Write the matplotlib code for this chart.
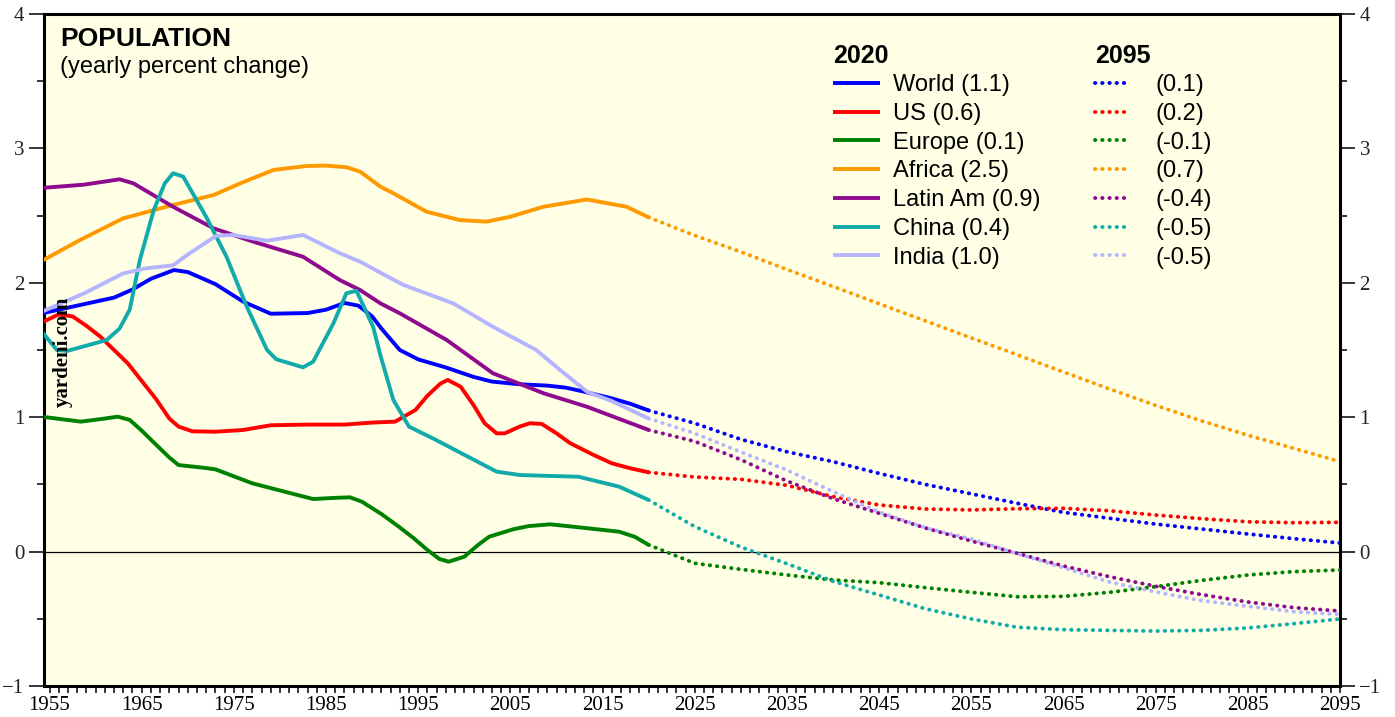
import matplotlib
matplotlib.use("Agg")
import matplotlib.pyplot as plt
from matplotlib.lines import Line2D
from matplotlib.ticker import MultipleLocator, FixedLocator

# ---------------- data ----------------
names = ["World", "US", "Europe", "Africa", "Latin Am", "China", "India"]
colors = ["#0000FF", "#FF0000", "#008000", "#FF9900", "#8E0A8E", "#12AAAA", "#B4B4FF"]
labels_2020 = ["World (1.1)", "US (0.6)", "Europe (0.1)", "Africa (2.5)",
               "Latin Am (0.9)", "China (0.4)", "India (1.0)"]
labels_2095 = ["(0.1)", "(0.2)", "(-0.1)", "(0.7)", "(-0.4)", "(-0.5)", "(-0.5)"]

world_years = [1954, 1958, 1962, 1964, 1966, 1968.5, 1970, 1973, 1976, 1979, 1983, 1985,
               1987, 1988.5, 1990, 1991, 1993, 1995, 1998, 2001, 2003, 2006, 2009, 2011,
               2013, 2016, 2018, 2020]
world_vals = [1.77, 1.83, 1.89, 1.95, 2.03, 2.095, 2.08, 1.99, 1.86, 1.77, 1.775, 1.80,
              1.85, 1.83, 1.75, 1.66, 1.50, 1.43, 1.37, 1.30, 1.265, 1.245, 1.235, 1.22,
              1.19, 1.14, 1.10, 1.05]

us_years = [1954, 1956, 1957.5, 1959, 1960.5, 1962, 1963.5, 1965, 1966.5, 1968, 1969,
            1970.5, 1973, 1976, 1979, 1983, 1987, 1990, 1992.5, 1994.7, 1996, 1997.4,
            1998.2, 1999.6, 2001, 2002.2, 2003.5, 2004.4, 2006, 2007.1, 2008.4, 2010,
            2011.5, 2014, 2016, 2018, 2020]
us_vals = [1.70, 1.765, 1.75, 1.68, 1.60, 1.50, 1.40, 1.27, 1.14, 0.99, 0.93,
           0.895, 0.892, 0.905, 0.94, 0.945, 0.945, 0.96, 0.967, 1.054, 1.16, 1.25,
           1.277, 1.227, 1.09, 0.955, 0.88, 0.88, 0.93, 0.955, 0.95, 0.88,
           0.806, 0.72, 0.657, 0.62, 0.59]

europe_years = [1954, 1958.4, 1961, 1962.4, 1963.7, 1965, 1966.4, 1968, 1969, 1971.7, 1973,
                1975, 1977, 1980.5, 1983.6, 1986, 1987.6, 1988.9, 1991, 1992.9, 1994.5,
                1996, 1997.3, 1998.3, 2000, 2001.5, 2002.7, 2005.3, 2007, 2009.3, 2012.4,
                2016.8, 2018.5, 2020]
europe_vals = [1.005, 0.967, 0.99, 1.004, 0.98, 0.90, 0.806, 0.70, 0.644, 0.624, 0.612,
               0.56, 0.508, 0.446, 0.391, 0.40, 0.404, 0.371, 0.28, 0.185, 0.10,
               0.012, -0.055, -0.075, -0.038, 0.05, 0.111, 0.166, 0.19, 0.203, 0.181,
               0.148, 0.11, 0.05]

africa_years = [1954, 1958.3, 1963, 1968.4, 1972.8, 1975.7, 1979.3, 1982.9, 1985, 1987.2,
                1988.7, 1990.9, 1992.3, 1995.9, 1999.5, 2002.4, 2004.9, 2008.6, 2013.3,
                2017.6, 2020]
africa_vals = [2.157, 2.318, 2.48, 2.579, 2.653, 2.74, 2.84, 2.869, 2.872, 2.86, 2.827,
               2.715, 2.666, 2.529, 2.467, 2.455, 2.49, 2.566, 2.62, 2.566, 2.487]

latam_years = [1954, 1958.7, 1962.6, 1964.1, 1968.4, 1972.8, 1977.1, 1982.5, 1986.5, 1988.7,
               1990.9, 1993, 1998.1, 2003.1, 2008.6, 2013.3, 2020]
latam_vals = [2.705, 2.73, 2.77, 2.74, 2.566, 2.405, 2.306, 2.194, 2.02, 1.946,
              1.847, 1.773, 1.574, 1.327, 1.178, 1.078, 0.905]

china_years = [1954, 1955.8, 1956.9, 1961.2, 1962.6, 1963.7, 1964.8, 1966.3, 1967.5, 1968.4,
               1969.5, 1972, 1974.2, 1976.4, 1978.6, 1979.6, 1982.5, 1983.6, 1985.8, 1987.2,
               1988.3, 1990.1, 1990.9, 1992.3, 1994, 1996.8, 2000.4, 2003.5, 2006, 2009.3,
               2012.4, 2016.8, 2020]
china_vals = [1.65, 1.50, 1.493, 1.574, 1.66, 1.80, 2.17, 2.54, 2.74, 2.815,
              2.79, 2.49, 2.194, 1.822, 1.50, 1.431, 1.371, 1.413, 1.699, 1.922,
              1.941, 1.673, 1.46, 1.128, 0.93, 0.835, 0.706, 0.595, 0.57, 0.563,
              0.557, 0.483, 0.384]

india_years = [1954, 1958.7, 1963, 1965.5, 1968.4, 1970.2, 1973.1, 1974.9, 1978.6, 1982.5,
               1986.5, 1988.7, 1990.9, 1993.4, 1998.8, 2003.1, 2007.8, 2010.4, 2013.3,
               2016, 2020]
india_vals = [1.78, 1.92, 2.07, 2.108, 2.13, 2.22, 2.35, 2.356, 2.313, 2.356,
              2.22, 2.157, 2.075, 1.984, 1.847, 1.673, 1.50, 1.351, 1.19,
              1.12, 0.99]

proj_years = [2020, 2025, 2030, 2035, 2040, 2045, 2050, 2055, 2060, 2065, 2070, 2075,
              2080, 2085, 2090, 2095]
world_proj = [1.05, 0.955, 0.835, 0.743, 0.669, 0.582, 0.50, 0.43, 0.359, 0.292, 0.248,
              0.205, 0.168, 0.131, 0.096, 0.064]
us_proj = [0.59, 0.555, 0.538, 0.493, 0.409, 0.347, 0.317, 0.31, 0.319, 0.322, 0.304,
           0.272, 0.245, 0.222, 0.215, 0.218]
europe_proj = [0.05, -0.087, -0.132, -0.174, -0.211, -0.231, -0.268, -0.303, -0.336,
               -0.333, -0.303, -0.261, -0.214, -0.174, -0.149, -0.137]
africa_proj = [2.487, 2.352, 2.23, 2.099, 1.973, 1.844, 1.717, 1.59, 1.464, 1.336, 1.21,
               1.088, 0.972, 0.866, 0.768, 0.669]
latam_proj = [0.905, 0.82, 0.684, 0.525, 0.394, 0.285, 0.176, 0.079, -0.013, -0.107,
              -0.187, -0.258, -0.32, -0.375, -0.417, -0.442]
china_proj = [0.384, 0.186, 0.034, -0.09, -0.221, -0.323, -0.425, -0.501, -0.563, -0.581,
              -0.586, -0.591, -0.586, -0.568, -0.536, -0.501]
india_proj = [0.99, 0.88, 0.741, 0.607, 0.446, 0.295, 0.178, 0.094, -0.016, -0.12,
              -0.226, -0.30, -0.365, -0.407, -0.447, -0.467]

hist = [(world_years, world_vals), (us_years, us_vals), (europe_years, europe_vals),
        (africa_years, africa_vals), (latam_years, latam_vals), (china_years, china_vals),
        (india_years, india_vals)]
proj = [world_proj, us_proj, europe_proj, africa_proj, latam_proj, china_proj, india_proj]

xtick_years = list(range(1955, 2096, 10))

# ---------------- figure ----------------
SANS = ["Liberation Sans", "DejaVu Sans"]
SERIF = ["Liberation Serif", "DejaVu Serif"]
plt.rcParams["font.family"] = SANS

fig = plt.figure(figsize=(13.95, 7.17), dpi=100)
ax = fig.add_axes([44 / 1395, 31 / 717, 1296 / 1395, 672 / 717])
ax.set_facecolor("#FFFFE5")

LW = 2.8
DOT = (0, (0.1, 1.75))
for (yrs, vals), pv, c in zip(hist, proj, colors):
    ax.plot(yrs, vals, color=c, lw=LW, solid_capstyle="butt", solid_joinstyle="round",
            zorder=3)
    ax.plot(proj_years, pv, color=c, lw=LW, linestyle=DOT, dash_capstyle="round", zorder=3)

ax.axhline(0, color="black", lw=0.9, zorder=2)

ax.set_xlim(1954.4, 2095)
ax.set_ylim(-1, 4)

for s in ax.spines.values():
    s.set_linewidth(2.2)

ax.xaxis.set_major_locator(FixedLocator(xtick_years))
ax.xaxis.set_minor_locator(MultipleLocator(1))
ax.tick_params(axis="x", which="both", direction="out", length=5, width=1.1,
               bottom=True, top=False, pad=2.5, labelsize=15)
ax.yaxis.set_major_locator(MultipleLocator(1))
ax.yaxis.set_minor_locator(MultipleLocator(0.5))
ax.tick_params(axis="y", which="major", direction="out", length=11, width=1.1,
               left=True, right=True, labelleft=True, labelright=True, pad=3, labelsize=15)
ax.tick_params(axis="y", which="minor", direction="out", length=5, width=1.1,
               left=True, right=True)
for lab in ax.get_xticklabels():
    lab.set_family(SERIF)
for t in ax.yaxis.get_major_ticks():
    t.label1.set_family(SERIF)
    t.label2.set_family(SERIF)
    t.label2.set_fontsize(15)
    t.label1.set_color("#222222")
    t.label2.set_color("#222222")

# titles
ax.text(0.0125, 0.952, "POPULATION", transform=ax.transAxes, fontsize=19,
        fontweight="bold", va="baseline", ha="left")
ax.text(0.0125, 0.912, "(yearly percent change)", transform=ax.transAxes, fontsize=17,
        va="baseline", ha="left")
ax.text(0.0145, 0.497, "yardeni.com", transform=ax.transAxes, rotation=90,
        family=SERIF, fontweight="bold", fontsize=15, ha="center", va="center")

# legends
h1 = [Line2D([], [], color=c, lw=LW, solid_capstyle="butt") for c in colors]
h2 = [Line2D([], [], color=c, lw=LW, linestyle=DOT, dash_capstyle="round") for c in colors]
common = dict(loc="upper left", frameon=False, fontsize=17, labelspacing=0.285,
              borderpad=0, borderaxespad=0, alignment="left",
              title_fontproperties={"weight": "bold", "size": 18})
leg1 = ax.legend(h1, labels_2020, title="2020", bbox_to_anchor=(0.609, 0.956),
                 handlelength=2.0, handletextpad=0.55, **common)
ax.add_artist(leg1)
leg2 = ax.legend(h2, labels_2095, title="2095", bbox_to_anchor=(0.811, 0.956),
                 handlelength=1.5, handletextpad=1.05, **common)

fig.savefig("out.png", dpi=100, facecolor="white")
